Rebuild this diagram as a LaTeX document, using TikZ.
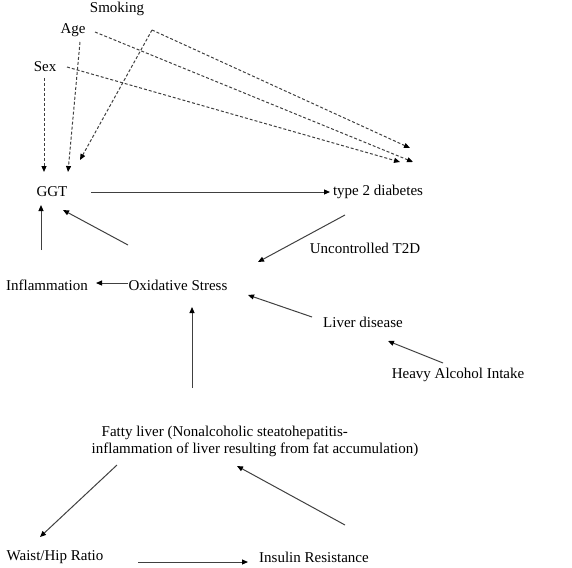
\documentclass[tikz,border=0pt]{standalone}
\usepackage{fontspec}
\setmainfont{Liberation Serif}
\usetikzlibrary{arrows.meta}

\begin{document}
\begin{tikzpicture}[x=1pt, y=-1pt, font=\fontsize{15}{17}\selectfont,
	main/.style = {inner sep=0pt},
	arr/.style = {draw=black!75, line width=1pt, -{Triangle[length=6pt,width=5pt,color=black]}},
	dsh/.style = {arr, dash pattern=on 3pt off 2pt}]
	\useasboundingbox (0,0) rectangle (572,567);
	% factors
	\node[main] (smoking) at (117,9){Smoking};
	\node[main] (age) at (73,30){Age};
	\node[main] (sex) at (45,67){Sex};
	\node[main] (ggt) at (52,192){GGT};
	\node[main] (t2d) at (378,192){type 2 diabetes};
	\node[main] (uncon) at (365,248){Uncontrolled T2D};
	\node[main] (infl) at (47,285){Inflammation};
	\node[main] (ox) at (178,285){Oxidative Stress};
	\node[main] (liver) at (363,322){Liver disease};
	\node[main] (alcohol) at (458,375){Heavy Alcohol Intake};
	\node[main, align=left] (fatty) at (255,441){\hspace*{10pt}Fatty liver (Nonalcoholic steatohepatitis-\\inflammation of liver resulting from fat accumulation)};
	\node[main] (waist) at (55,557){Waist/Hip Ratio};
	\node[main] (insulin) at (314,557){Insulin Resistance};
	% arrow ends
	\coordinate (sex out) at (44,78);
	\coordinate (sex out2) at (67,67);
	\coordinate (age out) at (80,42);
	\coordinate (age out2) at (95,32);
	\coordinate (smoking out) at (152,30);
	\coordinate (ggt in1) at (44,172);
	\coordinate (ggt in2) at (68,172);
	\coordinate (ggt in3) at (80,160);
	\coordinate (ggt in4) at (41,205);
	\coordinate (ggt in5) at (63,210);
	\coordinate (ggt out) at (91,192);
	\coordinate (t2d in1) at (410,148);
	\coordinate (t2d in2) at (413,162);
	\coordinate (t2d in3) at (400,162);
	\coordinate (t2d in4) at (330,192);
	\coordinate (t2d out) at (345,215);
	\coordinate (infl out) at (41,250);
	\coordinate (infl in) at (96,283);
	\coordinate (ox out1) at (128,245);
	\coordinate (ox out2) at (128,283);
	\coordinate (ox in1) at (258,262);
	\coordinate (ox in2) at (248,295);
	\coordinate (ox in3) at (192,307);
	\coordinate (liver in) at (388,341);
	\coordinate (liver out) at (312,317);
	\coordinate (alcohol out) at (443,363);
	\coordinate (fatty out1) at (192,388);
	\coordinate (fatty out2) at (117,465);
	\coordinate (fatty in) at (237,466);
	\coordinate (waist in) at (40,537);
	\coordinate (waist out) at (138,562);
	\coordinate (insulin in) at (248,562);
	\coordinate (insulin out) at (345,525);
	% confounders
	\draw[dsh] (sex out) -- (ggt in1);
	\draw[dsh] (age out) -- (ggt in2);
	\draw[dsh] (smoking out) -- (ggt in3);
	\draw[dsh] (smoking out) -- (t2d in1);
	\draw[dsh] (age out2) -- (t2d in2);
	\draw[dsh] (sex out2) -- (t2d in3);
	% pathways
	\draw[arr] (ggt out) -- (t2d in4);
	\draw[arr] (infl out) -- (ggt in4);
	\draw[arr] (ox out1) -- (ggt in5);
	\draw[arr] (t2d out) -- (ox in1);
	\draw[arr] (ox out2) -- (infl in);
	\draw[arr] (liver out) -- (ox in2);
	\draw[arr] (alcohol out) -- (liver in);
	\draw[arr] (fatty out1) -- (ox in3);
	\draw[arr] (fatty out2) -- (waist in);
	\draw[arr] (insulin out) -- (fatty in);
	\draw[arr] (waist out) -- (insulin in);
\end{tikzpicture}
\end{document}
